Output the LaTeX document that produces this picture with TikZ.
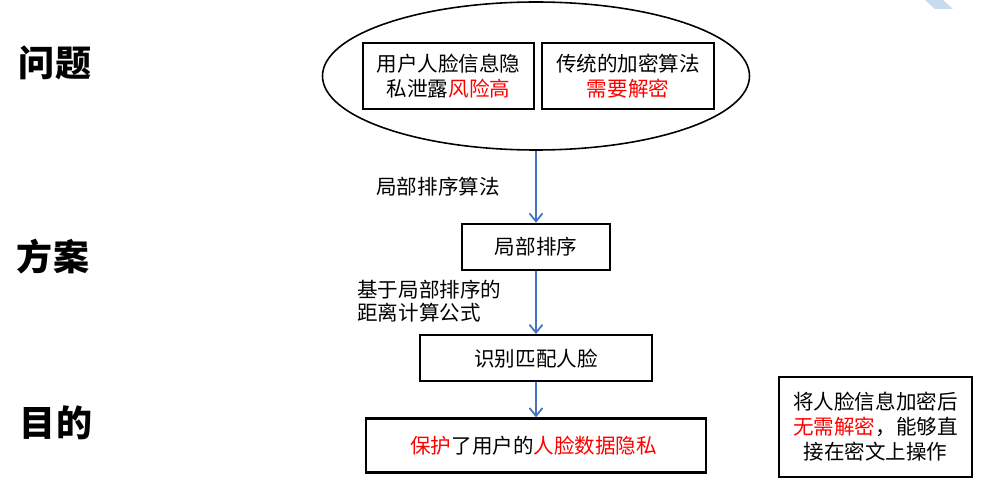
\documentclass[tikz,border=0pt]{standalone}
\usepackage{xcolor}
\usepackage{fontspec}
\setmainfont{Liberation Sans}
\newfontfamily\cjk{Noto Sans CJK SC}
\usepackage{tikz}
\usetikzlibrary{arrows.meta, calc, positioning, shapes.geometric}
\definecolor{flowblue}{RGB}{68,114,196}
\definecolor{stripblue}{RGB}{198,219,238}
\tikzset{
    box/.style={rectangle, draw=black, line width=1.3pt, align=center,
        inner sep=0pt, font=\cjk\fontsize{11.7}{14.2}\selectfont},
    oval/.style={ellipse, draw=black, line width=0.9pt, inner sep=0pt,
        minimum width=8.54cm, minimum height=2.96cm},
    note/.style={align=left, anchor=west, inner sep=0pt,
        font=\cjk\fontsize{11.7}{13.2}\selectfont},
    stage/.style={inner sep=0pt, font=\cjk\bfseries\fontsize{20.5}{24}\selectfont},
    arrow/.style={-{Straight Barb[length=1.6mm, width=2.6mm]}, flowblue, line width=1pt},
    hot/.style={color=red},
}
\begin{document}
\begin{tikzpicture}[node distance=1.44cm]
    \useasboundingbox (0,0) rectangle (19.8,-10.08);
    \fill[stripblue] (18.5,0) -- (18.86,0) -- (19.06,-0.18) -- (18.7,-0.18) -- cycle;
    \node[stage] (wenti) at (1.1,-1.26) {问题};
    \node[stage] (fangan) at (1.06,-5.14) {方案};
    \node[stage] (mudi) at (1.12,-8.46) {目的};
    \node[oval] (issue) at (10.72,-1.52) {};
    \node[box, minimum width=3.42cm, minimum height=1.32cm] (leak) at (8.97,-1.52) {
        用户人脸信息隐\\私泄露{\color{red}风险高}
    };
    \node[box, minimum width=3.44cm, minimum height=1.32cm] (decrypt) at (12.56,-1.52) {
        传统的加密算法\\{\color{red}需要解密}
    };
    \node[box, minimum width=2.96cm, minimum height=0.92cm, below=of issue] (rank) {局部排序};
    \node[box, minimum width=4.64cm, minimum height=0.92cm, below=1.26cm of rank] (match) {识别匹配人脸};
    \node[box, minimum width=6.8cm, minimum height=1.08cm, below=0.7cm of match] (goal) {
        {\color{red}保护}了用户的{\color{red}人脸数据隐私}
    };
    \node[box, minimum width=3.86cm, minimum height=2.0cm] (extra) at (17.51,-8.54) {
        将人脸信息加密后\\{\color{red}无需解密}，能够直\\接在密文上操作
    };
    \node[note] (algo) at (7.52,-3.74) {局部排序算法};
    \node[note] (formula) at (7.14,-6.02) {基于局部排序的\\距离计算公式};
    \draw[arrow] (issue) -- (rank);
    \draw[arrow] (rank) -- (match);
    \draw[arrow] (match) -- (goal);
\end{tikzpicture}
\end{document}
